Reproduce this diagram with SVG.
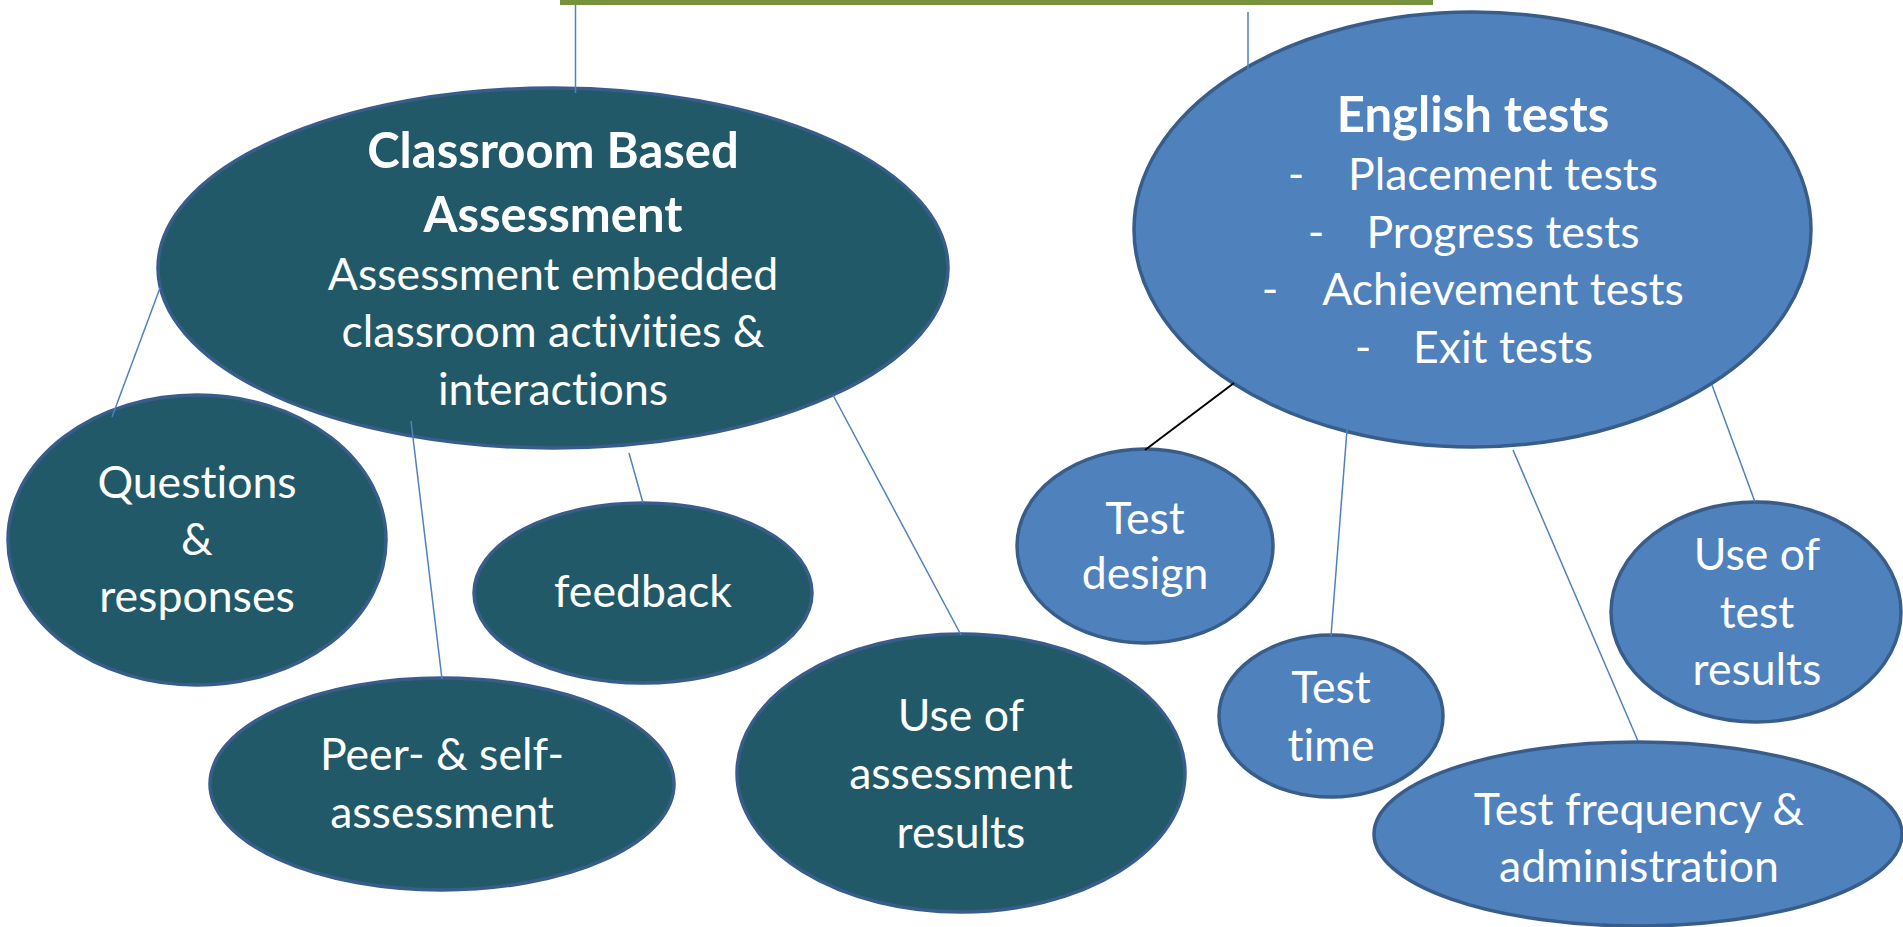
<svg xmlns="http://www.w3.org/2000/svg" width="1903" height="927" viewBox="0 0 1903 927">
  <style>
    .dark { fill: #215968; stroke: #385D8A; stroke-width: 3.5; }
    .light { fill: #4F81BD; stroke: #385D8A; stroke-width: 3.5; }
    .t { font-family: Lato, "Open Sans", "Liberation Sans", sans-serif; font-size: 44.6px; fill: #FFFFFF; text-anchor: middle;
         font-variant-ligatures: none; font-feature-settings: "liga" 0, "clig" 0; }
    .b { font-weight: bold; font-size: 49px; }
    .link { stroke: #4F81BD; stroke-width: 1.5; fill: none; }
    .link-black { stroke: #000000; stroke-width: 2; fill: none; }
  </style>

  <!-- top banner edge -->
  <rect id="banner" x="560" y="0" width="873" height="5" fill="#76923C"/>

  <!-- nodes -->
  <g id="cba">
    <ellipse class="dark" cx="553" cy="268" rx="395" ry="180"/>
    <text class="t b" x="553" y="168">Classroom Based</text>
    <text class="t b" x="553" y="232">Assessment</text>
    <text class="t" x="553" y="290">Assessment embedded</text>
    <text class="t" x="553" y="347">classroom activities &amp;</text>
    <text class="t" x="553" y="405">interactions</text>
  </g>

  <g id="english-tests">
    <ellipse class="light" cx="1472.5" cy="229.5" rx="338.5" ry="217.5"/>
    <text class="t b" x="1473" y="132">English tests</text>
    <text class="t" x="1296" y="190">-</text>
    <text class="t" x="1503" y="190">Placement tests</text>
    <text class="t" x="1316" y="248">-</text>
    <text class="t" x="1503" y="248">Progress tests</text>
    <text class="t" x="1270" y="305">-</text>
    <text class="t" x="1503" y="305">Achievement tests</text>
    <text class="t" x="1363" y="363">-</text>
    <text class="t" x="1503" y="363">Exit tests</text>
  </g>

  <g id="questions">
    <ellipse class="dark" cx="197" cy="540" rx="189" ry="145"/>
    <text class="t" x="197" y="498">Questions</text>
    <text class="t" x="197" y="555">&amp;</text>
    <text class="t" x="197" y="612">responses</text>
  </g>

  <g id="peer-self">
    <ellipse class="dark" cx="442" cy="784" rx="232" ry="106"/>
    <text class="t" x="442" y="770">Peer- &amp; self-</text>
    <text class="t" x="442" y="828">assessment</text>
  </g>

  <g id="feedback">
    <ellipse class="dark" cx="643" cy="593" rx="169" ry="90"/>
    <text class="t" x="643" y="607">feedback</text>
  </g>

  <g id="use-assessment">
    <ellipse class="dark" cx="961" cy="773" rx="224" ry="139"/>
    <text class="t" x="961" y="731">Use of</text>
    <text class="t" x="961" y="789">assessment</text>
    <text class="t" x="961" y="848">results</text>
  </g>

  <g id="test-design">
    <ellipse class="light" cx="1145" cy="546" rx="128" ry="97"/>
    <text class="t" x="1145" y="534">Test</text>
    <text class="t" x="1145" y="589">design</text>
  </g>

  <g id="test-time">
    <ellipse class="light" cx="1331" cy="716" rx="112" ry="81"/>
    <text class="t" x="1331" y="703">Test</text>
    <text class="t" x="1331" y="761">time</text>
  </g>

  <g id="use-test">
    <ellipse class="light" cx="1756" cy="612" rx="145" ry="110"/>
    <text class="t" x="1757" y="570">Use of</text>
    <text class="t" x="1757" y="628">test</text>
    <text class="t" x="1757" y="685">results</text>
  </g>

  <g id="test-frequency">
    <ellipse class="light" cx="1638" cy="834" rx="264" ry="92"/>
    <text class="t" x="1639" y="825">Test frequency &amp;</text>
    <text class="t" x="1639" y="882">administration</text>
  </g>

  <!-- connectors -->
  <g id="connectors">
    <line class="link" x1="575.5" y1="5" x2="575.5" y2="93"/>
    <line class="link" x1="1248" y1="12" x2="1248" y2="70"/>
    <line class="link" x1="160" y1="288" x2="112" y2="417"/>
    <line class="link" x1="411" y1="421" x2="442" y2="679"/>
    <line class="link" x1="629" y1="453" x2="643" y2="503"/>
    <line class="link" x1="833" y1="395" x2="961" y2="635"/>
    <line class="link-black" x1="1234" y1="383" x2="1145" y2="450"/>
    <line class="link" x1="1348" y1="417" x2="1331" y2="636"/>
    <line class="link" x1="1513" y1="450" x2="1638" y2="741"/>
    <line class="link" x1="1712" y1="385" x2="1755" y2="502"/>
  </g>
</svg>
